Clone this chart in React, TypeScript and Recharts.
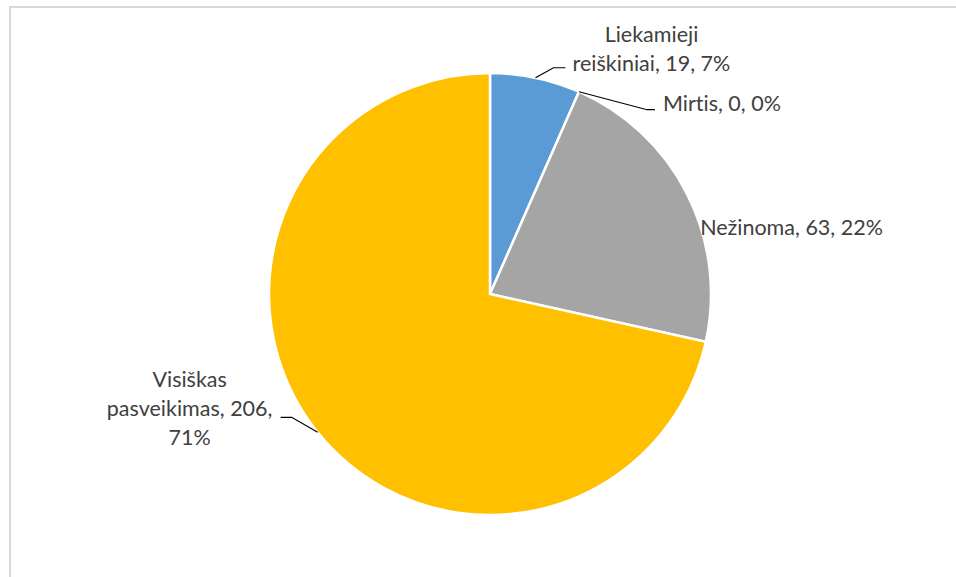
import {Cell, Pie, PieChart} from 'recharts';

const categories = ['Liekamieji reiškiniai', 'Mirtis', 'Nežinoma', 'Visiškas pasveikimas'];
const counts = [19, 0, 63, 206];
const percentLabels = ['7%', '0%', '22%', '71%'];
const sliceColors = ['#5B9BD5', '#ED7D31', '#A5A5A5', '#FFC000'];

const data = categories.map((name, i) => ({ name, value: counts[i], pct: percentLabels[i] }));

// how each label sits relative to the point on the rim at the slice's middle
const labelLayout = [
  { words: [1, 3], anchor: 'middle', dx: 116, dy: -36, leader: [[18, -10], [30, -10]] },
  { words: [3], anchor: 'start', dx: 84, dy: 19, leader: [[68, 18], [76, 18]] },
  { words: [3], anchor: 'start', dx: 13, dy: 41, leader: [] },
  { words: [1, 2, 1], anchor: 'middle', dx: -128, dy: -45, leader: [[-26, -15], [-37, -15]] },
];

const RAD = Math.PI / 180;

function renderLabel(props: any) {
  const { cx, cy, midAngle, outerRadius, index } = props;
  const entry = data[index];
  const layout = labelLayout[index];
  const ex = cx + outerRadius * Math.cos(-midAngle * RAD);
  const ey = cy + outerRadius * Math.sin(-midAngle * RAD);

  const words = `${entry.name}, ${entry.value}, ${entry.pct}`.split(' ');
  const lines: string[] = [];
  let k = 0;
  layout.words.forEach(n => {
    lines.push(words.slice(k, k + n).join(' '));
    k += n;
  });

  const pts = [[ex, ey], ...layout.leader.map(([x, y]) => [ex + x, ey + y])];

  return (
    <g key={`lbl-${index}`}>
      {layout.leader.length > 0 && (
        <polyline points={pts.map(p => p.join(',')).join(' ')} fill="none" stroke="#000" strokeWidth={1.2} />
      )}
      <text
        x={ex + layout.dx}
        y={ey + layout.dy}
        textAnchor={layout.anchor as any}
        fill="#404040"
        fontSize={21.5}
        fontFamily="Lato, sans-serif"
        style={{ fontVariantLigatures: 'none' }}
      >
        {lines.map((line, i) => (
          <tspan key={i} x={ex + layout.dx} dy={i === 0 ? 0 : 29}>{line}</tspan>
        ))}
      </text>
    </g>
  );
}

export default function App() {
  return (
    <div style={{ position: 'absolute', left: 0, top: 0, width: 956, height: 577, overflow: 'hidden', background: '#fff' }}>
      <div
        style={{
          position: 'absolute',
          left: 9,
          top: 6,
          width: 980,
          height: 600,
          border: '2px solid #d9d9d9',
        }}
      />
      <div style={{ position: 'absolute', left: 0, top: 0 }}>
        <PieChart width={956} height={577} margin={{ top: 0, right: 0, bottom: 0, left: 0 }}>
          <Pie
            data={data}
            dataKey="value"
            nameKey="name"
            cx={490}
            cy={294}
            outerRadius={221}
            startAngle={90}
            endAngle={-270}
            stroke="#fff"
            strokeWidth={2.5}
            label={renderLabel}
            labelLine={false}
            isAnimationActive={false}
          >
            {data.map((d, i) => (
              <Cell key={d.name} fill={sliceColors[i]} />
            ))}
          </Pie>
        </PieChart>
      </div>
    </div>
  );
}
